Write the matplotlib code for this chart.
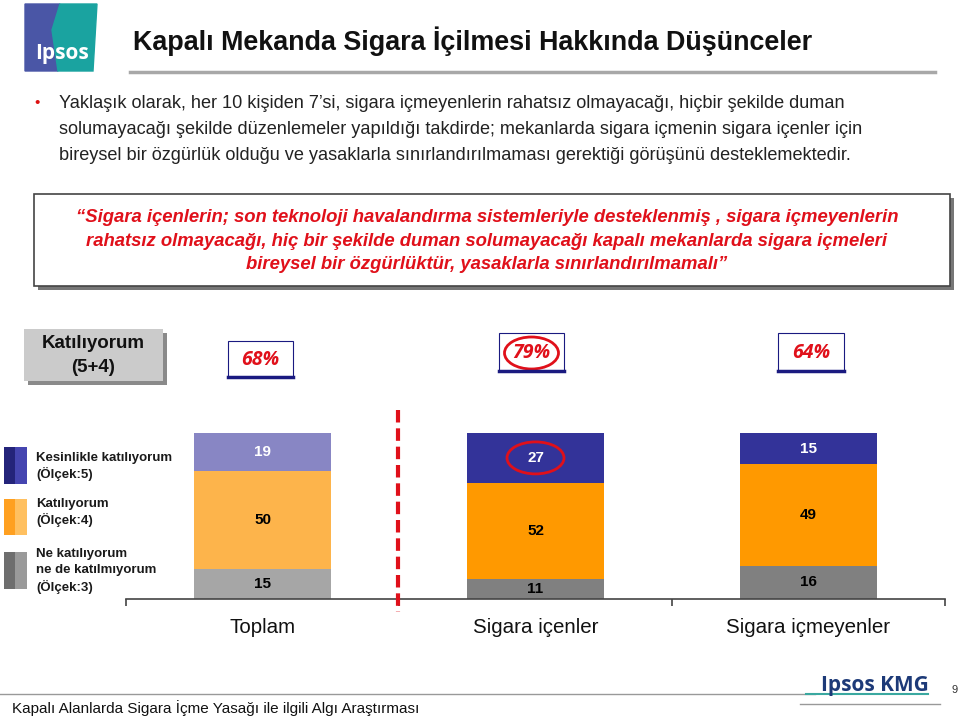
import numpy as np
import matplotlib.pyplot as plt
from matplotlib.patches import Rectangle, Ellipse, Polygon
from matplotlib.lines import Line2D

plt.rcParams['font.family'] = ['Liberation Sans', 'DejaVu Sans']

# data
groups = ['Toplam', 'Sigara içenler', 'Sigara içmeyenler']
strongly = [19, 27, 15]   # Kesinlikle katılıyorum (5)
agree = [50, 52, 49]      # Katılıyorum (4)
neutral = [15, 11, 16]    # Ne katılıyorum ne de katılmıyorum (3)
agree_total = ['68%', '79%', '64%']

W, H = 960, 717
fig = plt.figure(figsize=(9.6, 7.17), dpi=100)


def fx(x):
    return x / W


def fy(y):
    return 1 - y / H


def rect(x0, y0, x1, y1, **kw):
    fig.patches.append(Rectangle((fx(x0), fy(y1)), (x1 - x0) / W, (y1 - y0) / H,
                                 transform=fig.transFigure, **kw))


def line(x0, y0, x1, y1, **kw):
    fig.lines.append(Line2D([fx(x0), fx(x1)], [fy(y0), fy(y1)], transform=fig.transFigure, **kw))


def txt(x, y, s, **kw):
    fig.text(fx(x), fy(y), s, **kw)


# ipsos logo
fig.patches.append(Polygon([(fx(25), fy(4)), (fx(60), fy(4)), (fx(52), fy(30)), (fx(58), fy(71)), (fx(25), fy(71))],
                           closed=True, transform=fig.transFigure, color='#4a56a6'))
fig.patches.append(Polygon([(fx(60), fy(4)), (fx(97), fy(4)), (fx(93), fy(71)), (fx(58), fy(71)), (fx(52), fy(30))],
                           closed=True, transform=fig.transFigure, color='#1aa3a0'))
txt(62, 53, 'Ipsos', color='white', fontsize=15, fontweight='bold', ha='center', va='center',
    family=['Open Sans', 'DejaVu Sans'])

# title
txt(133, 41, 'Kapalı Mekanda Sigara İçilmesi Hakkında Düşünceler', fontsize=19.4, fontweight='bold',
    va='center', ha='left', color='#111111')
line(130, 72, 935, 72, color='#a8a8a8', lw=2.5)

# bullet text
txt(37, 103, '•', color='#dd1111', fontsize=11, va='center', ha='center')
bullet = ['Yaklaşık olarak, her 10 kişiden 7’si, sigara içmeyenlerin rahatsız olmayacağı, hiçbir şekilde duman',
          'solumayacağı şekilde düzenlemeler yapıldığı takdirde; mekanlarda sigara içmenin sigara içenler için',
          'bireysel bir özgürlük olduğu ve yasaklarla sınırlandırılmaması gerektiği görüşünü desteklemektedir.']
for i, s in enumerate(bullet):
    txt(59, 103 + 26 * i, s, fontsize=13.1, va='center', ha='left', color='#222222')

# quote box
rect(38, 198, 954, 290, facecolor='#777777', edgecolor='none')
rect(34, 194, 950, 286, facecolor='white', edgecolor='#444444', lw=1.2)
quote = ['“Sigara içenlerin; son teknoloji havalandırma sistemleriyle desteklenmiş , sigara içmeyenlerin',
         'rahatsız olmayacağı, hiç bir şekilde duman solumayacağı kapalı mekanlarda sigara içmeleri',
         'bireysel bir özgürlüktür, yasaklarla sınırlandırılmamalı”']
for i, s in enumerate(quote):
    txt(487, 218 + 23 * i, s, fontsize=13.3, fontweight='bold', fontstyle='italic', color='#e0101a',
        ha='center', va='center')

# Katılıyorum (5+4) box
rect(28, 333, 167, 385, facecolor='#8a8a8a', edgecolor='none')
rect(24, 329, 163, 381, facecolor='#cbcbcb', edgecolor='none')
txt(93, 344, 'Katılıyorum', fontsize=13.5, fontweight='bold', ha='center', va='center', color='#111111')
txt(93, 368, '(5+4)', fontsize=13.5, fontweight='bold', ha='center', va='center', color='#111111')

# percentage boxes
pbox = [(228, 341, 293, 377), (499, 333, 564, 371), (778, 333, 844, 371)]
for (x0, y0, x1, y1), s in zip(pbox, agree_total):
    rect(x0, y0, x1, y1, facecolor='white', edgecolor='#1a1a80', lw=0.8)
    line(x0, y1, x1, y1, color='#1a1a80', lw=2.5)
    txt((x0 + x1) / 2, (y0 + y1) / 2 + 1, s, fontsize=14, fontweight='bold', fontstyle='italic',
        color='#e0101a', ha='center', va='center', family=['Open Sans', 'DejaVu Sans'])
fig.patches.append(Ellipse((fx(531.5), fy(353)), 54 / W, 32 / H, transform=fig.transFigure,
                           fill=False, edgecolor='#e0101a', lw=2))

# bar chart
ax = fig.add_axes([fx(126), fy(599), (945 - 126) / W, (599 - 433) / H])
ax.set_xlim(0, 3)
ax.set_ylim(0, 1)
xs = np.arange(len(groups)) + 0.5
tot = np.array(strongly) + np.array(agree) + np.array(neutral)
c_top = ['#8886c4', '#333399', '#333399']
c_mid = ['#fdb44b', '#ff9900', '#ff9900']
c_bot = ['#a6a6a6', '#808080', '#808080']
b0 = np.array(neutral) / tot
b1 = np.array(agree) / tot
b2 = np.array(strongly) / tot
ax.bar(xs, b0, width=0.5, color=c_bot)
ax.bar(xs, b1, width=0.5, bottom=b0, color=c_mid)
ax.bar(xs, b2, width=0.5, bottom=b0 + b1, color=c_top)
for i in range(len(groups)):
    ax.text(xs[i], b0[i] / 2, str(neutral[i]), ha='center', va='center', fontsize=11, fontweight='bold')
    ax.text(xs[i], b0[i] + b1[i] / 2, str(agree[i]), ha='center', va='center', fontsize=11, fontweight='bold')
    ax.text(xs[i], b0[i] + b1[i] + b2[i] / 2, str(strongly[i]), ha='center', va='center', fontsize=11,
            fontweight='bold', color='white')
    ax.text(xs[i], -0.17, groups[i], ha='center', va='center', fontsize=14.8, clip_on=False,
            color='#111111')
for s in ['top', 'left', 'right']:
    ax.spines[s].set_visible(False)
ax.spines['bottom'].set_color('#444444')
ax.spines['bottom'].set_linewidth(1.2)
ax.set_yticks([])
ax.set_xticks([0, 1, 2, 3])
ax.set_xticklabels([])
ax.tick_params(axis='x', length=5, color='#444444', width=1.2)
ax.patch.set_alpha(0)

ax.add_patch(Ellipse((xs[1], b0[1] + b1[1] + b2[1] / 2), 57 / 273, 32 / 166, fill=False,
                     edgecolor='#e0101a', lw=2))

# red dashed separator
line(398, 410, 398, 612, color='#e0101a', lw=3, linestyle=(0, (3, 1.4)))

# legend
leg_boxes = [(447, 484, '#24247a', '#4545b0'), (499, 535, '#ffa020', '#ffc060'), (552, 589, '#6e6e6e', '#9a9a9a')]
for y0, y1, c0, c1 in leg_boxes:
    rect(4, y0, 16, y1, facecolor=c0, edgecolor='none')
    rect(15, y0, 27, y1, facecolor=c1, edgecolor='none')
leg_txt = [(458, 'Kesinlikle katılıyorum'), (474, '(Ölçek:5)'), (504, 'Katılıyorum'), (520, '(Ölçek:4)'),
           (554, 'Ne katılıyorum'), (570, 'ne de katılmıyorum'), (587, '(Ölçek:3)')]
for y, s in leg_txt:
    txt(36, y, s, fontsize=9.5, fontweight='bold', va='center', ha='left', color='#1a1a1a')

# footer
line(0, 694, 815, 694, color='#999999', lw=1)
line(806, 694, 928, 694, color='#3aa8a0', lw=1.5)
line(800, 704, 940, 704, color='#999999', lw=1)
txt(875, 685, 'Ipsos KMG', fontsize=15, fontweight='bold', color='#1d3a78', ha='center', va='center',
    family=['Open Sans', 'DejaVu Sans'])
txt(955, 690, '9', fontsize=8, color='#333333', ha='center', va='center')
txt(12, 708, 'Kapalı Alanlarda Sigara İçme Yasağı ile ilgili Algı Araştırması', fontsize=11, color='#111111',
    ha='left', va='center')

fig.savefig('out.png', dpi=100)
